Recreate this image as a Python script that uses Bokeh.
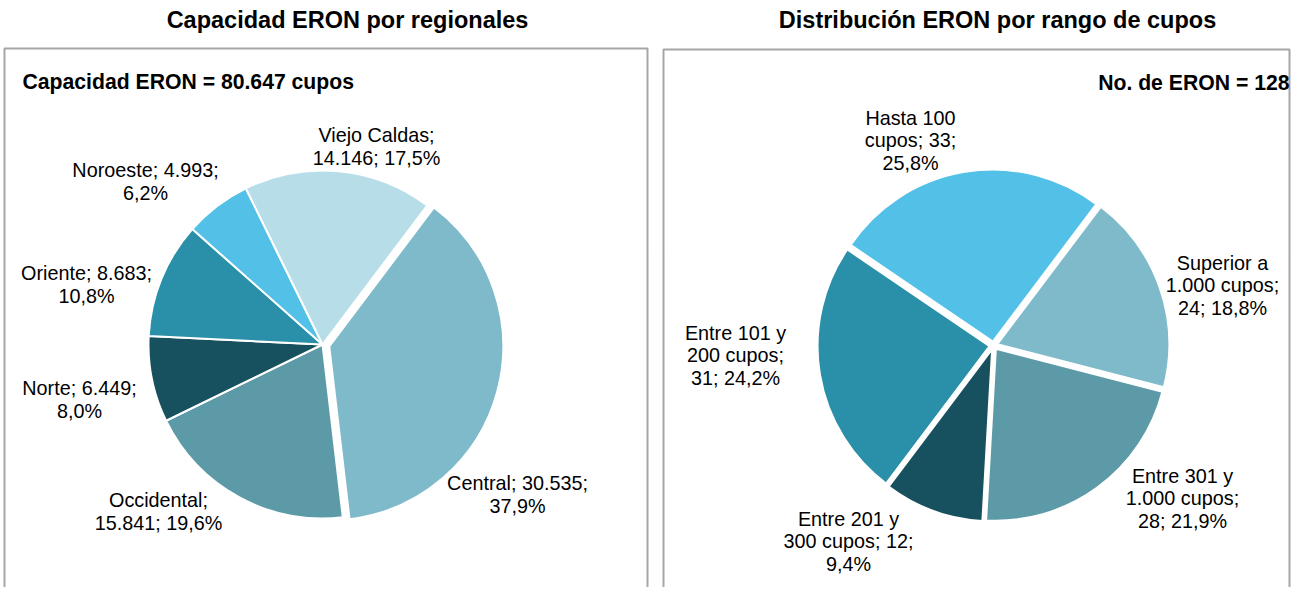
import math
from bokeh.plotting import figure
from bokeh.models import Range1d, ColumnDataSource
from bokeh.core.properties import value
from bokeh.embed import file_html
from bokeh.resources import INLINE

# ---------------- data ----------------
left_names = ["Central", "Occidental", "Norte", "Oriente", "Noroeste", "Viejo Caldas"]
left_values = [30535, 15841, 6449, 8683, 4993, 14146]
left_formats = ["{n}; {v};\n{p}", "{n};\n{v}; {p}", "{n}; {v};\n{p}",
                "{n}; {v};\n{p}", "{n}; {v};\n{p}", "{n};\n{v}; {p}"]

right_names = ["Superior a 1.000 cupos", "Entre 301 y 1.000 cupos", "Entre 201 y 300 cupos",
               "Entre 101 y 200 cupos", "Hasta 100 cupos"]
right_values = [24, 28, 12, 31, 33]
right_labels_fmt = ["Superior a\n1.000 cupos;\n{v}; {p}", "Entre 301 y\n1.000 cupos;\n{v}; {p}",
                    "Entre 201 y\n300 cupos; {v};\n{p}", "Entre 101 y\n200 cupos;\n{v}; {p}",
                    "Hasta 100\ncupos; {v};\n{p}"]

title_left = "Capacidad ERON por regionales"
title_right = "Distribución ERON por rango de cupos"

# ---------------- styles / layout ----------------
left_colors = ["#7FBACB", "#5D9AA8", "#17505E", "#2A8FA8", "#53C1E7", "#B7DEE8"]
right_colors = ["#7FBACB", "#5D9AA8", "#17505E", "#2A8FA8", "#53C1E7"]
left_explode = [7, 0, 0, 0, 0, 0]
right_explode = [4, 4, 4, 4, 4]
left_label_xy = [(517, 494), (158, 511), (79, 399), (86, 284), (145, 181), (376, 146)]
right_label_xy = [(1222, 285), (1182, 498), (848, 541), (735, 355), (910, 140)]

W, H = 1291, 587
FONT = "Liberation Sans"


def Y(py):
    return H - py


def fmt_int(v):
    return f"{v:,}".replace(",", ".")


def fmt_pct(v, total):
    return f"{v / total * 100:.1f}".replace(".", ",") + "%"


p = figure(width=W, height=H, x_range=Range1d(0, W), y_range=Range1d(0, H),
           output_backend="svg", toolbar_location=None, min_border=0,
           x_axis_location=None, y_axis_location=None)
p.outline_line_color = None
p.xgrid.visible = False
p.ygrid.visible = False
p.background_fill_color = "white"
p.border_fill_color = "white"

# panel boxes
p.quad(left=[4, 663], right=[647, 1289], top=[Y(48), Y(49)], bottom=[Y(601), Y(620)],
       fill_color=None, line_color="#A6A6A6", line_width=2)


def draw_pie(cx, cy, r, start_deg, values, colors, explode, labels, label_xy):
    total = sum(values)
    xs, ys, sa, ea = [], [], [], []
    theta = start_deg
    for v, e in zip(values, explode):
        span = v / total * 360.0
        mid = theta + span / 2
        dx = e * math.sin(math.radians(mid))
        dy = e * math.cos(math.radians(mid))
        xs.append(cx + dx)
        ys.append(Y(cy) + dy)
        sa.append(math.radians(90 - (theta + span)))
        ea.append(math.radians(90 - theta))
        theta += span
    src = ColumnDataSource(dict(x=xs, y=ys, s=sa, e=ea, c=colors))
    p.wedge(x="x", y="y", radius=r, start_angle="s", end_angle="e", fill_color="c",
            line_color="white", line_width=2, source=src)
    lsrc = ColumnDataSource(dict(x=[xy[0] for xy in label_xy], y=[Y(xy[1]) for xy in label_xy],
                                 t=labels))
    p.text(x="x", y="y", text="t", source=lsrc, text_align="center", text_baseline="middle",
           text_font=value(FONT), text_font_size="19.8px", text_color="#000000",
           text_line_height=1.03)


ltot = sum(left_values)
left_labels = [f.format(n=n, v=fmt_int(v), p=fmt_pct(v, ltot))
               for f, n, v in zip(left_formats, left_names, left_values)]
rtot = sum(right_values)
right_labels = [f.format(v=v, p=fmt_pct(v, rtot)) for f, v in zip(right_labels_fmt, right_values)]

draw_pie(322, 344, 174, 37, left_values, left_colors, left_explode, left_labels, left_label_xy)
draw_pie(993, 345, 172, 37, right_values, right_colors, right_explode, right_labels, right_label_xy)

# titles
p.text(x=[347, 997], y=[Y(19), Y(19)], text=[title_left, title_right], text_align="center",
       text_baseline="middle", text_font=value(FONT), text_font_size="23.5px",
       text_font_style="bold", text_color="#000000")
p.text(x=[22], y=[Y(81)], text=[f"Capacidad ERON = {fmt_int(ltot)} cupos"], text_align="left",
       text_baseline="middle", text_font=value(FONT), text_font_size="21.2px",
       text_font_style="bold", text_color="#000000")
p.text(x=[1289], y=[Y(82)], text=[f"No. de ERON = {rtot}"], text_align="right",
       text_baseline="middle", text_font=value(FONT), text_font_size="21.2px",
       text_font_style="bold", text_color="#000000")

open("out.html", "w").write(file_html(p, INLINE))
